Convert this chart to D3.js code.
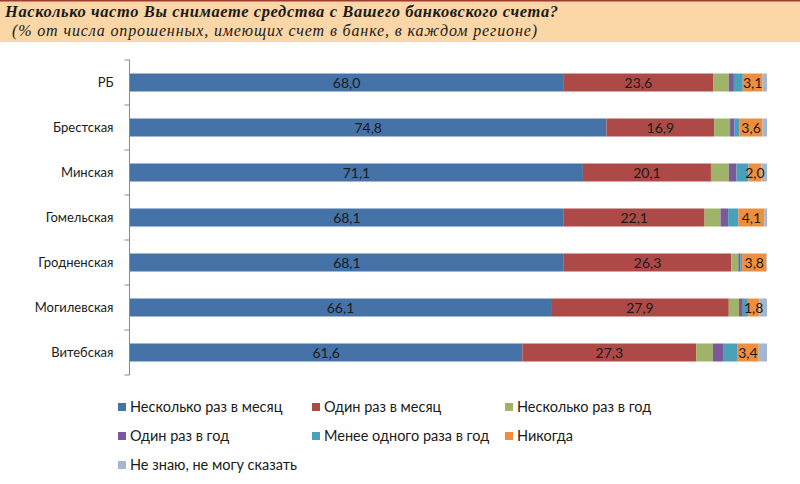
<!DOCTYPE html>
<html>
<head>
<meta charset="utf-8">
<script src="https://cdn.jsdelivr.net/npm/d3@7"></script>
<style>
  body { margin: 0; background: #fff; }
  svg text { font-family: Lato, "Open Sans", sans-serif; }
</style>
</head>
<body>
<div id="chart"></div>
<script>
// categories (top to bottom)
const regions = ["РБ", "Брестская", "Минская", "Гомельская", "Гродненская", "Могилевская", "Витебская"];

// series names
const seriesNames = [
    "Несколько раз в месяц", "Один раз в месяц", "Несколько раз в год",
    "Один раз в год", "Менее одного раза в год", "Никогда", "Не знаю, не могу сказать"
];

// series values, one per region
const severalMonth = [68.0, 74.8, 71.1, 68.1, 68.1, 66.1, 61.6];
const onceMonth    = [23.6, 16.9, 20.1, 22.1, 26.3, 27.9, 27.3];
const severalYear  = [2.4, 2.5, 2.8, 2.5, 1.1, 1.6, 2.6];
const onceYear     = [0.8, 0.7, 1.2, 1.2, 0.3, 0.6, 1.6];
const lessOnceYear = [1.4, 0.8, 1.9, 1.6, 0.3, 0.8, 2.2];
const never        = [3.1, 3.6, 2.0, 4.1, 3.8, 1.8, 3.4];
const dontKnow     = [0.7, 0.7, 0.9, 0.4, 0.1, 1.2, 1.3];

const seriesValues = [severalMonth, onceMonth, severalYear, onceYear, lessOnceYear, never, dontKnow];
const labelled = [0, 1, 5]; // series that show data labels

const colors = ["#4572a7", "#ad4a47", "#9fb469", "#7a5a98", "#4aa0b9", "#ee8f40", "#a3b7cf"];

const width = 800, height = 484;
const margin = {top: 60, left: 130, right: 33};

const svg = d3.select("#chart").append("svg")
    .attr("width", width)
    .attr("height", height);

// header band
svg.append("rect")
    .attr("x", 0).attr("y", 0)
    .attr("width", width).attr("height", 42)
    .attr("fill", "#fbd6a6");
svg.append("rect")
    .attr("x", 0).attr("y", 0)
    .attr("width", width).attr("height", 1.5)
    .attr("fill", "#9e3a2e");

svg.append("text")
    .attr("x", 5).attr("y", 17)
    .attr("textLength", 553)
    .attr("lengthAdjust", "spacing")
    .style("font-family", "'Liberation Serif', 'DejaVu Serif', serif")
    .style("font-weight", "bold")
    .style("font-style", "italic")
    .style("font-size", "16.5px")
    .attr("fill", "#1a1a1a")
    .text("Насколько часто Вы снимаете средства с Вашего банковского счета?");

svg.append("text")
    .attr("x", 12).attr("y", 36)
    .attr("textLength", 525)
    .attr("lengthAdjust", "spacing")
    .style("font-family", "'Liberation Serif', 'DejaVu Serif', serif")
    .style("font-style", "italic")
    .style("font-size", "16px")
    .attr("fill", "#1a1a1a")
    .text("(% от числа опрошенных, имеющих счет в банке, в каждом регионе)");

// scales
const y = d3.scaleBand()
    .domain(regions)
    .range([margin.top, margin.top + 45 * regions.length])
    .paddingInner(0.6)
    .paddingOuter(0.3);

const x = d3.scaleLinear()
    .domain([0, 100])
    .range([margin.left, width - margin.right]);

// stack data
const rows = regions.map((r, i) => {
    let o = {region: r};
    seriesNames.forEach((s, j) => o[s] = seriesValues[j][i]);
    return o;
});
const stacked = d3.stack().keys(seriesNames)(rows);

const groups = svg.append("g").selectAll("g")
    .data(stacked)
    .join("g")
    .attr("fill", (d, i) => colors[i]);

groups.selectAll("rect")
    .data(d => d)
    .join("rect")
    .attr("x", d => x(d[0]))
    .attr("y", d => y(d.data.region))
    .attr("width", d => x(d[1]) - x(d[0]))
    .attr("height", y.bandwidth());

// data labels
const fmt = v => v.toFixed(1).replace(".", ",");
labelled.forEach(si => {
    svg.append("g").selectAll("text")
        .data(stacked[si])
        .join("text")
        .attr("x", d => (x(d[0]) + x(d[1])) / 2)
        .attr("y", d => y(d.data.region) + y.bandwidth() / 2)
        .attr("dy", "0.36em")
        .attr("text-anchor", "middle")
        .style("font-size", "14px")
        .attr("fill", "#1a1a1a")
        .text(d => fmt(d[1] - d[0]));
});

// category axis
const yAxis = svg.append("g")
    .attr("transform", `translate(${margin.left - 0.5},0)`);
yAxis.append("line")
    .attr("x1", 0).attr("x2", 0)
    .attr("y1", y.range()[0]).attr("y2", y.range()[1])
    .attr("stroke", "#8a8a8a");
const step = y.step();
yAxis.selectAll(".tick")
    .data(d3.range(regions.length + 1))
    .join("line")
    .attr("x1", -5).attr("x2", 0)
    .attr("y1", i => y.range()[0] + i * step)
    .attr("y2", i => y.range()[0] + i * step)
    .attr("stroke", "#8a8a8a");
yAxis.selectAll("text")
    .data(regions)
    .join("text")
    .attr("x", -16)
    .attr("y", d => y(d) + y.bandwidth() / 2)
    .attr("dy", "0.36em")
    .attr("text-anchor", "end")
    .style("font-size", "13px")
    .attr("fill", "#1a1a1a")
    .text(d => d);

// legend
const legendCols = [118, 312, 505];
const legend = svg.append("g").selectAll("g")
    .data(seriesNames)
    .join("g")
    .attr("transform", (d, i) => `translate(${legendCols[i % 3]},${407 + Math.floor(i / 3) * 29})`);
legend.append("rect")
    .attr("x", 0).attr("y", -4)
    .attr("width", 8).attr("height", 8)
    .attr("fill", (d, i) => colors[i]);
legend.append("text")
    .attr("x", 12)
    .attr("dy", "0.36em")
    .style("font-size", "14.5px")
    .attr("fill", "#1a1a1a")
    .text(d => d);
</script>
</body>
</html>
